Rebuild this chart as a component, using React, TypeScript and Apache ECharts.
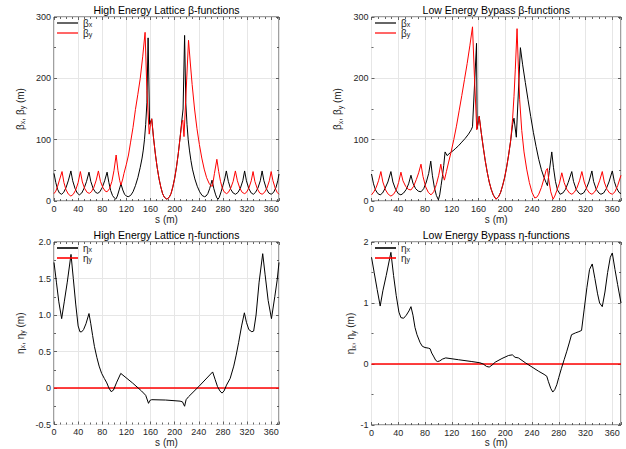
import React, { useEffect, useRef } from 'react';
import * as echarts from 'echarts';

// ---------- DATA (s [m], value) ----------
const xTicksMax = 373;

const heBetaX: number[][] = [
  [0, 45], [3, 30], [6, 19], [9, 13], [12.5, 11], [16, 14], [20, 22], [24, 34], [28, 49],
  [31, 33], [35, 20], [38.5, 13], [42, 10], [46, 13], [50, 21], [54, 32], [58, 47],
  [61, 32], [65, 20], [69, 14], [72.5, 12.5], [76, 15], [80, 22], [84, 33], [88, 47],
  [91, 30], [94, 17], [97, 9], [100, 5], [102.5, 3], [105, 8], [108, 18], [111, 28],
  [114, 18], [117, 11], [120, 8], [123, 7], [127, 9], [131, 15], [135, 25], [139, 38],
  [143, 55], [146, 70], [148, 83], [150, 100], [152, 125], [154, 160], [156, 266],
  [158.5, 125], [162, 134], [165, 103], [168, 77], [171, 55], [174, 37], [177, 23],
  [180, 12], [183, 6], [187, 3], [191, 6], [194, 12], [197, 23], [200, 37], [203, 55],
  [206, 77], [209, 103], [212, 132], [214, 150], [216.5, 270], [218.5, 160], [220.5, 125],
  [222.5, 100], [224.5, 83], [227, 66], [229.5, 52], [233.5, 36], [237.5, 24], [241.5, 15],
  [245.5, 9], [249.5, 7], [252, 8], [255, 12], [258, 20], [262, 34], [265, 20], [268, 10],
  [270, 5], [272, 3], [274, 6], [277, 15], [280, 25], [283, 36], [285.7, 49], [289, 32],
  [293, 19], [297, 13], [301, 11], [305, 14], [309, 21], [313, 33], [316, 49], [319, 33],
  [323, 20], [327, 13], [330.5, 11], [334, 14], [338, 21], [342, 33], [345, 49], [348, 33],
  [352, 20], [356, 13], [360, 11], [364, 14], [368, 22], [371, 33], [373, 44],
];

const heBetaY: number[][] = [
  [0, 12], [3, 16], [6, 24], [9, 34], [13.3, 48], [16.5, 30], [20, 18], [24, 11], [28, 8],
  [32, 11], [36, 18], [40, 30], [43.7, 48], [47, 31], [51, 20], [55, 14], [58.5, 12.5],
  [62, 15], [66, 22], [70, 34], [73.6, 49], [77, 32], [81, 22], [85, 16], [88, 15],
  [92, 20], [96, 32], [99.5, 50], [103, 75], [106, 50], [109, 33], [111, 26], [114, 36],
  [116, 45], [120, 60], [123.5, 75], [127, 96], [131, 120], [135, 149], [139, 174],
  [143, 200], [147, 235], [151, 275], [154, 180], [157.8, 109], [160, 125], [162, 134],
  [165, 103], [168, 77], [171, 55], [174, 37], [177, 23], [180, 12], [183, 6], [187, 3],
  [191, 6], [194, 12], [197, 23], [200, 37], [203, 55], [206, 77], [209, 103], [212, 128],
  [213.5, 132], [215.5, 105], [223, 262], [226, 225], [229, 190], [233, 150], [237, 118],
  [241, 92], [245, 70], [249, 52], [253, 38], [257, 29], [260, 25], [262.5, 24], [266, 45],
  [270, 68], [273, 48], [276, 32], [279, 21], [282, 15], [286, 12], [289, 14], [293, 21],
  [297, 32], [300.7, 49], [304, 33], [308, 21], [312, 14], [316, 12], [319, 14], [323, 21],
  [327, 33], [330, 48], [333, 32], [337, 20], [341, 13], [345, 11], [349, 14], [353, 21],
  [357, 33], [360, 48], [363, 33], [367, 20], [370, 14], [373, 11],
];

const leBetaX: number[][] = [
  [0, 44], [3, 28], [6, 18], [9.5, 12], [13, 10], [16.5, 13], [20, 20], [24.5, 31], [29, 48],
  [32, 31], [36, 19], [40, 12], [44, 10], [48, 13], [52, 19], [55.5, 28], [59, 42],
  [62, 29], [66, 20], [70, 16], [74, 15], [78, 20], [82, 31], [85.5, 45], [88.6, 65],
  [91, 42], [94, 22], [97, 9], [100, 2], [102, 10], [104, 25], [106, 40], [108, 58],
  [110, 80], [113, 74], [118, 79], [122, 82], [126, 86], [130, 90], [135, 96], [140, 102],
  [145, 109], [149, 116], [151, 121], [157, 257], [158, 118], [161, 138], [164, 112],
  [167, 88], [170, 66], [173, 47], [176, 31], [179, 19], [182, 10], [186, 3], [190, 7],
  [193, 14], [196, 25], [199, 38], [202, 55], [205, 75], [208, 98], [211, 125], [213, 135],
  [216.5, 104], [222.6, 250], [226, 222], [230, 193], [234, 165], [238, 138], [242, 112],
  [246, 89], [250, 68], [254, 51], [258, 38], [261, 30], [263, 25], [266, 50], [269.5, 80],
  [272, 55], [275, 32], [278, 18], [282, 11], [286, 13], [290, 19], [294, 30], [299.4, 48],
  [302, 32], [306, 19], [310, 13], [313, 11], [317, 13], [321, 20], [325, 31], [329.5, 49],
  [332, 32], [336, 19], [340, 13], [343, 11], [347, 13], [351, 20], [355, 31], [360, 49],
  [363, 32], [366, 22], [370, 14], [373, 12],
];

const leBetaY: number[][] = [
  [0, 10], [3.5, 15], [7, 22], [10.5, 33], [14, 48], [17, 31], [21, 18], [25, 11], [29, 8],
  [33, 11], [37, 18], [40.5, 30], [44, 47], [47, 33], [51, 24], [55, 19], [59, 18],
  [63, 24], [67, 35], [70.5, 46], [74, 60], [77, 40], [81, 23], [85, 14], [89, 10],
  [93, 15], [97, 27], [100.5, 42], [103.6, 60], [106, 45], [109, 34], [112, 48], [115, 62],
  [119, 80], [123, 100], [127, 122], [131, 147], [135, 172], [139, 198], [143, 224],
  [147, 253], [151, 284], [154, 200], [157.4, 116], [161, 138], [164, 112], [167, 88],
  [170, 66], [173, 47], [176, 31], [179, 19], [182, 10], [186, 3], [190, 7], [193, 14],
  [196, 25], [199, 38], [202, 55], [205, 75], [208, 98], [211, 135], [213, 170],
  [215, 215], [217.6, 281], [219.5, 220], [221.5, 165], [224.6, 115], [228, 80],
  [232, 52], [236, 30], [240, 14], [244, 5], [247, 6], [250, 11], [254, 22], [258, 37],
  [261, 50], [263, 53], [265, 35], [268, 15], [271.5, 3], [274, 8], [277, 17], [281, 29],
  [284.5, 46], [288, 30], [292, 19], [296, 13], [299.5, 11], [303, 14], [307, 21],
  [311, 33], [314.5, 48], [318, 31], [322, 19], [326, 13], [329.5, 11], [333, 14],
  [337, 21], [341, 33], [345, 48], [348, 31], [352, 19], [356, 13], [360, 11], [364, 15],
  [368, 25], [373, 42],
];

const heEtaX: number[][] = [
  [0, 1.72], [4, 1.45], [8, 1.18], [12.7, 0.95], [17, 1.18], [22, 1.45], [28.2, 1.83],
  [32, 1.5], [36, 1.15], [40, 0.85], [43, 0.77], [46, 0.77], [49, 0.8], [53, 0.88],
  [58, 1.02], [61, 0.88], [64, 0.72], [67, 0.57], [71, 0.42], [74.8, 0.3], [79, 0.2],
  [83.5, 0.13], [87.5, 0.07], [91, 0.0], [94.7, -0.05], [98.5, -0.03], [104, 0.08],
  [110.7, 0.2], [130, 0.07], [145, -0.04], [152, -0.1], [156.7, -0.21], [159, -0.17],
  [162, -0.16], [185, -0.165], [209, -0.18], [213, -0.19], [216.5, -0.25], [219, -0.16],
  [223, -0.12], [240, 0.02], [263, 0.22], [267, 0.12], [271, 0.02], [275, -0.04],
  [278.5, -0.07], [282, -0.04], [286, 0.04], [292, 0.13], [298, 0.3], [302, 0.45],
  [306, 0.62], [311, 0.85], [315.6, 1.03], [319, 0.9], [323, 0.8], [328, 0.77],
  [331, 0.78], [335, 1.0], [340, 1.45], [346, 1.84], [350, 1.55], [355, 1.2],
  [360.5, 0.95], [366, 1.25], [370, 1.48], [373, 1.72],
];

const heEtaY: number[][] = [[0, 0], [373, 0]];

const leEtaX: number[][] = [
  [0, 1.75], [4, 1.5], [8.5, 1.22], [13, 0.95], [17, 1.2], [22, 1.45], [29, 1.83],
  [33, 1.45], [37, 1.12], [41, 0.85], [44, 0.76], [48, 0.75], [52, 0.8], [56, 0.87],
  [59, 0.94], [62, 0.8], [65, 0.6], [68, 0.48], [72.7, 0.35], [76, 0.29], [80, 0.27],
  [85, 0.26], [87.6, 0.25], [90, 0.18], [92.6, 0.13], [96, 0.06], [98.6, 0.04],
  [102, 0.05], [106, 0.08], [111, 0.1], [130, 0.07], [150, 0.04], [162, 0.02], [167, 0],
  [172, -0.04], [176, -0.05], [180, -0.02], [185, 0.03], [195, 0.09], [205, 0.14],
  [210.6, 0.15], [214.6, 0.11], [219.6, 0.1], [230, 0.02], [240, -0.05], [250, -0.12],
  [258, -0.17], [262, -0.2], [264.5, -0.29], [268, -0.4], [271, -0.46], [274, -0.42],
  [277, -0.34], [280, -0.22], [284, -0.07], [288, 0.07], [292, 0.21], [296, 0.36],
  [299, 0.48], [305, 0.51], [310, 0.53], [314, 0.55], [318, 0.9], [322, 1.25],
  [326, 1.55], [330, 1.64], [334, 1.4], [338, 1.15], [341, 1.0], [345, 0.94],
  [349, 1.18], [353, 1.5], [357, 1.75], [360, 1.82], [364, 1.55], [368, 1.3], [373, 1.0],
];

const leEtaY: number[][] = [[0, 0], [373, 0]];

const titles = [
  'High Energy Lattice β-functions',
  'Low Energy Bypass β-functions',
  'High Energy Lattice η-functions',
  'Low Energy Bypass η-functions',
];

// ---------- LAYOUT ----------
const FONT = 'Liberation Sans';
const W = 626;
const H = 449;

type Panel = {
  left: number; top: number; width: number; height: number;
  ymin: number; ymax: number; yint: number; ysplit: number;
  fmt: (v: number) => string; yName: string; yGap: number;
  legendLeft: number; legendNames: string[]; redWidth: number;
};

const betaName = 'β{s|x}, β{s|y} (m)';
const etaName = 'η{s|x}, η{s|y} (m)';

const panels: Panel[] = [
  { left: 54, top: 17, width: 225, height: 184, ymin: 0, ymax: 300, yint: 100, ysplit: 2,
    fmt: (v) => String(v), yName: betaName, yGap: 28, legendLeft: 57,
    legendNames: ['βx', 'βy'], redWidth: 1 },
  { left: 371.5, top: 17, width: 249.5, height: 184, ymin: 0, ymax: 300, yint: 100, ysplit: 2,
    fmt: (v) => String(v), yName: betaName, yGap: 28, legendLeft: 375,
    legendNames: ['βx', 'βy'], redWidth: 1 },
  { left: 54, top: 242, width: 225, height: 182.5, ymin: -0.5, ymax: 2, yint: 0.5, ysplit: 2,
    fmt: (v) => (v === 0 ? '0' : v.toFixed(1)), yName: etaName, yGap: 28, legendLeft: 57,
    legendNames: ['ηx', 'ηy'], redWidth: 1.6 },
  { left: 371.5, top: 242, width: 249.5, height: 183, ymin: -1, ymax: 2, yint: 1, ysplit: 2,
    fmt: (v) => String(v), yName: etaName, yGap: 14, legendLeft: 375,
    legendNames: ['ηx', 'ηy'], redWidth: 1.6 },
];

const seriesData = [
  [heBetaX, heBetaY],
  [leBetaX, leBetaY],
  [heEtaX, heEtaY],
  [leEtaX, leEtaY],
];

const AX = '#404040';
const GRIDC = '#e6e6e6';
const LBL = '#262626';

const subRich = {
  s: { fontFamily: FONT, fontSize: 7, color: LBL, lineHeight: 4, verticalAlign: 'bottom' },
};

function buildOption(): any {
  const grid: any[] = [];
  const xAxis: any[] = [];
  const yAxis: any[] = [];
  const series: any[] = [];
  const title: any[] = [];
  const legend: any[] = [];

  panels.forEach((p, i) => {
    grid.push({ left: p.left, top: p.top, width: p.width, height: p.height, show: true,
      borderColor: AX, borderWidth: 1, backgroundColor: 'transparent', containLabel: false });
    const xBase = {
      type: 'value', gridIndex: i, min: 0, max: xTicksMax, interval: 40,
      axisLine: { show: false, onZero: false },
      axisTick: { show: true, inside: true, length: 3, lineStyle: { color: AX, width: 0.8 } },
      minorTick: { show: true, splitNumber: 4, length: 2, lineStyle: { color: AX, width: 0.8 } },
    };
    xAxis.push({
      ...xBase, position: 'bottom',
      name: 's (m)', nameLocation: 'middle', nameGap: i < 2 ? 13 : 10,
      nameTextStyle: { fontFamily: FONT, fontSize: 10, color: LBL },
      axisLabel: { show: true, fontFamily: FONT, fontSize: 9, color: LBL, margin: 3, showMaxLabel: false },
      splitLine: { show: true, lineStyle: { color: GRIDC, width: 1 } },
    });
    xAxis.push({
      ...xBase, position: 'top',
      axisLabel: { show: false }, splitLine: { show: false },
    });
    const yBase = {
      type: 'value', gridIndex: i, min: p.ymin, max: p.ymax, interval: p.yint,
      axisLine: { show: false, onZero: false },
      axisTick: { show: true, inside: true, length: 3, lineStyle: { color: AX, width: 0.8 } },
      minorTick: { show: true, splitNumber: p.ysplit, length: 2, lineStyle: { color: AX, width: 0.8 } },
    };
    yAxis.push({
      ...yBase, position: 'left',
      name: p.yName, nameLocation: 'middle', nameGap: p.yGap,
      nameTextStyle: { fontFamily: FONT, fontSize: 10, color: LBL, lineHeight: 12, rich: subRich },
      axisLabel: { show: true, fontFamily: FONT, fontSize: 9, color: LBL, margin: 3,
        formatter: p.fmt },
      splitLine: { show: true, lineStyle: { color: GRIDC, width: 1 } },
    });
    yAxis.push({
      ...yBase, position: 'right',
      axisLabel: { show: false }, splitLine: { show: false },
    });

    const [a, b] = seriesData[i];
    series.push({
      type: 'line', name: p.legendNames[0], xAxisIndex: 2 * i, yAxisIndex: 2 * i,
      data: a, symbol: 'none', showSymbol: false,
      lineStyle: { color: '#000', width: 1 }, itemStyle: { color: '#000' }, z: i < 2 ? 2 : 3,
    });
    series.push({
      type: 'line', name: p.legendNames[1], xAxisIndex: 2 * i, yAxisIndex: 2 * i,
      data: b, symbol: 'none', showSymbol: false,
      lineStyle: { color: '#ff0000', width: p.redWidth }, itemStyle: { color: '#ff0000' },
      z: i < 2 ? 3 : 2,
    });

    title.push({
      text: titles[i], left: p.left + p.width / 2, textAlign: 'center', top: i < 2 ? 4 : 229,
      padding: 0,
      textStyle: { fontFamily: FONT, fontSize: 10.5, fontWeight: 'normal', color: '#000' },
    });

    legend.push({
      show: true, orient: 'vertical', left: p.legendLeft, top: p.top + 1, padding: 0,
      itemGap: 0, itemWidth: 21, itemHeight: p.redWidth > 1 ? 1.6 : 1.2, icon: 'rect',
      itemStyle: { borderWidth: 0 },
      data: p.legendNames.map((n) => ({ name: n })),
      formatter: (n: string) => n[0] + '{s|' + n.slice(1) + '}',
      textStyle: { fontFamily: FONT, fontSize: 10, color: LBL, lineHeight: 9, rich: subRich },
      selectedMode: false,
    });
  });

  return {
    animation: false,
    backgroundColor: '#fff',
    grid, xAxis, yAxis, series, title, legend,
  };
}

export default function App() {
  const ref = useRef<HTMLDivElement>(null);
  useEffect(() => {
    const chart = echarts.init(ref.current as HTMLDivElement, null, { renderer: 'svg' });
    chart.setOption(buildOption());
    return () => chart.dispose();
  }, []);
  return (
    <div
      ref={ref}
      style={{ position: 'fixed', left: 0, top: 0, width: W, height: H, background: '#fff' }}
    />
  );
}
